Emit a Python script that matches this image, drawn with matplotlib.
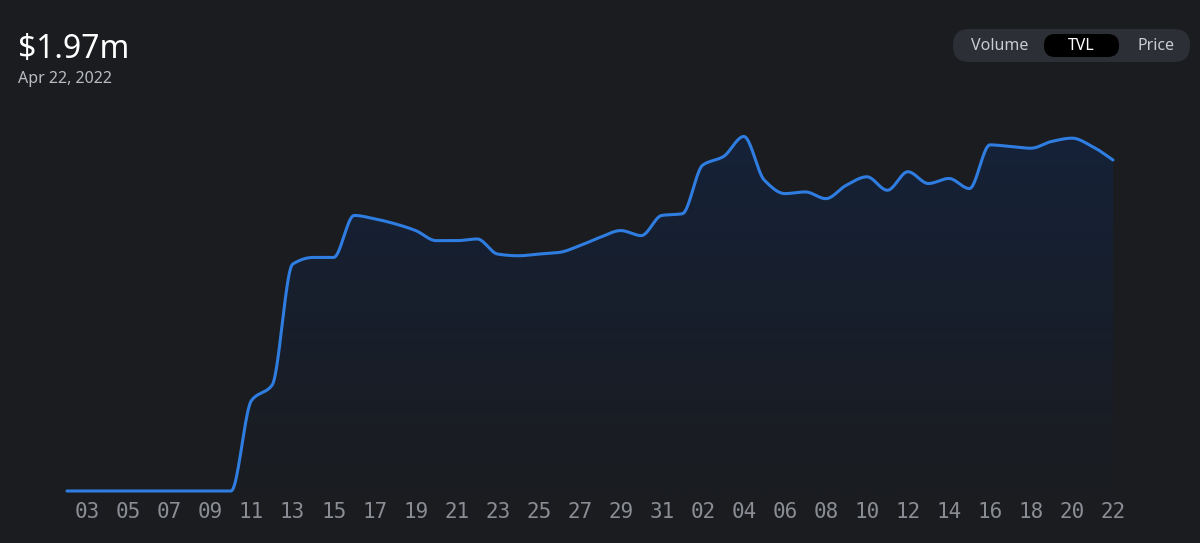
import numpy as np
import matplotlib.pyplot as plt
from matplotlib.patches import FancyBboxPatch
import datetime as dt

# daily TVL, millions USD, Mar 2 .. Apr 22 2022
days = [dt.date(2022, 3, 2) + dt.timedelta(d) for d in range(52)]
tvl = [0, 0, 0, 0, 0, 0, 0, 0, 0,
       0.54, 0.63, 1.35, 1.39, 1.39, 1.64, 1.62, 1.59, 1.55, 1.49,
       1.49, 1.50, 1.41, 1.40, 1.41, 1.42, 1.46, 1.51, 1.55, 1.52,
       1.64, 1.65, 1.94, 1.99, 2.11, 1.85, 1.77, 1.78, 1.74, 1.82,
       1.87, 1.79, 1.90, 1.83, 1.86, 1.80, 2.06, 2.05, 2.04, 2.08,
       2.10, 2.05, 1.97]
tick_days = list(range(1, 52, 2))
tick_labels = [days[d].strftime('%d') for d in tick_days]

bg = '#1a1c20'
line_c = '#2f7de1'

# monotone cubic (Fritsch-Carlson) smoothing for display, like d3 curveMonotoneX
x = np.arange(len(tvl), dtype=float)
y = np.array(tvl)
d = np.diff(y)
m = np.zeros_like(y)
m[0], m[-1] = d[0], d[-1]
for i in range(1, len(y) - 1):
    if d[i - 1] * d[i] > 0:
        m[i] = 2 / (1 / d[i - 1] + 1 / d[i])
xs, ys = [], []
t = np.linspace(0, 1, 20, endpoint=False)
for i in range(len(y) - 1):
    h00 = 2 * t**3 - 3 * t**2 + 1
    h10 = t**3 - 2 * t**2 + t
    h01 = -2 * t**3 + 3 * t**2
    h11 = t**3 - t**2
    xs.append(x[i] + t)
    ys.append(h00 * y[i] + h10 * m[i] + h01 * y[i + 1] + h11 * m[i + 1])
xs = np.concatenate(xs + [[x[-1]]])
ys = np.concatenate(ys + [[y[-1]]])

fig = plt.figure(figsize=(12, 5.43), dpi=100, facecolor=bg)
ax = fig.add_axes([67 / 1200, 52 / 543, 1046 / 1200, 391 / 543])
ax.set_facecolor(bg)
ax.set_xlim(0, 51)
ax.set_ylim(0, 2.327)

# gradient fill under the line
grad = np.linspace(0, 1, 256).reshape(-1, 1)
cmap = plt.matplotlib.colors.LinearSegmentedColormap.from_list('g', [bg, '#15223a'])
im = ax.imshow(grad, extent=[0, 51, 0, 2.327], origin='lower', aspect='auto', cmap=cmap, zorder=1)
poly = ax.fill_between(xs, ys, 0, color='none')
im.set_clip_path(poly.get_paths()[0], transform=ax.transData)
ax.plot(xs, ys, color=line_c, lw=2.2, zorder=3, solid_capstyle='round', clip_on=False)

for s in ax.spines.values():
    s.set_visible(False)
ax.set_yticks([])
ax.set_xticks(tick_days)
ax.set_xticklabels(tick_labels, family='DejaVu Sans Mono', fontsize=15, color='#8a8d93')
ax.tick_params(axis='x', length=0, pad=8)

# overlay in pixel coordinates for header and toggle
ov = fig.add_axes([0, 0, 1, 1], facecolor='none')
ov.set_xlim(0, 1200)
ov.set_ylim(543, 0)
ov.axis('off')
ov.text(18, 50, '$1.97m', color='white', fontsize=23, va='center', family='Noto Sans')
ov.text(18, 79, 'Apr 22, 2022', color='#b8bbc0', fontsize=11.5, va='center', family='Noto Sans')
ov.add_patch(FancyBboxPatch((953, 29), 237, 33, boxstyle='round,pad=0,rounding_size=16',
                            facecolor='#2c2f36', edgecolor='none'))
ov.add_patch(FancyBboxPatch((1044, 34), 75, 23, boxstyle='round,pad=0,rounding_size=11',
                            facecolor='#000000', edgecolor='none'))
for lbl, cx in [('Volume', 1000), ('TVL', 1081), ('Price', 1156)]:
    ov.text(cx, 46, lbl, color='white' if lbl == 'TVL' else '#c8cbd0',
            fontsize=11.5, ha='center', va='center', family='Noto Sans',
            fontweight='bold' if lbl == 'TVL' else 'normal')

fig.savefig('out.png', facecolor=bg)
